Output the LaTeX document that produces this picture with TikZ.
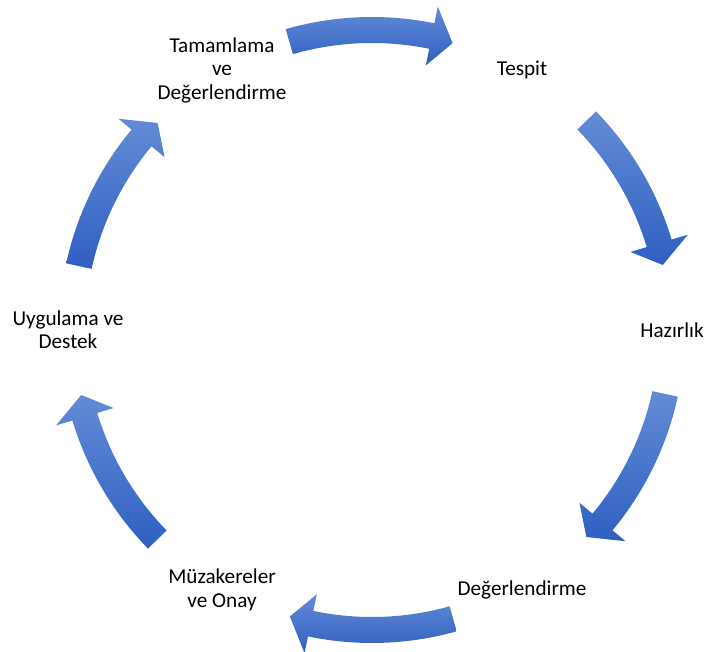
\documentclass[tikz,border=0pt]{standalone}
\usepackage{fontspec}
\setmainfont{Carlito}
\usetikzlibrary{positioning}
\definecolor{cycleLightBlue}{RGB}{99,139,213}
\definecolor{cycleDarkBlue}{RGB}{47,95,193}
\tikzset{
  arrowblock/.style={top color=cycleLightBlue,bottom color=cycleDarkBlue,draw=none},
  phaselabel/.style={align=center,inner sep=0pt,font=\fontsize{21.2}{23.3}\selectfont}
}
% one curved block arrow, centred at the given angle, running clockwise
\newcommand{\cyclearrow}[1]{%
  \pgfmathsetmacro{\tailang}{#1+16}%
  \pgfmathsetmacro{\headang}{#1-11.5}%
  \pgfmathsetmacro{\tipang}{#1-15.7}%
  \shade[arrowblock] (\tailang:313) arc[start angle=\tailang,end angle=\headang,radius=313]
    -- (\headang:330) -- (\tipang:298) -- (\headang:270) -- (\headang:287)
    arc[start angle=\headang,end angle=\tailang,radius=287] -- cycle;}

\begin{document}
\begin{tikzpicture}[x=1pt,y=1pt]
\useasboundingbox (0,0) rectangle (706,651);
\begin{scope}[shift={(372,321)}]
\cyclearrow{90}
\cyclearrow{28.3}
\cyclearrow{-28.3}
\cyclearrow{-90.3}
\cyclearrow{-151.7}
\cyclearrow{151.7}
\node[phaselabel] (tespit) at (60:300) {Tespit};
\node[phaselabel] (hazirlik) at (0:300) {Hazırlık};
\node[phaselabel] (degerlendirme) at (-60:300) {Değerlendirme};
\node[phaselabel] (muzakere) at (-120:300) {Müzakereler\\ve Onay};
\node[phaselabel] (uygulama) at (180:304) {Uygulama ve\\Destek};
\node[phaselabel] (tamamlama) at (120:300) {Tamamlama\\ve\\Değerlendirme};
\end{scope}
\end{tikzpicture}
\end{document}
